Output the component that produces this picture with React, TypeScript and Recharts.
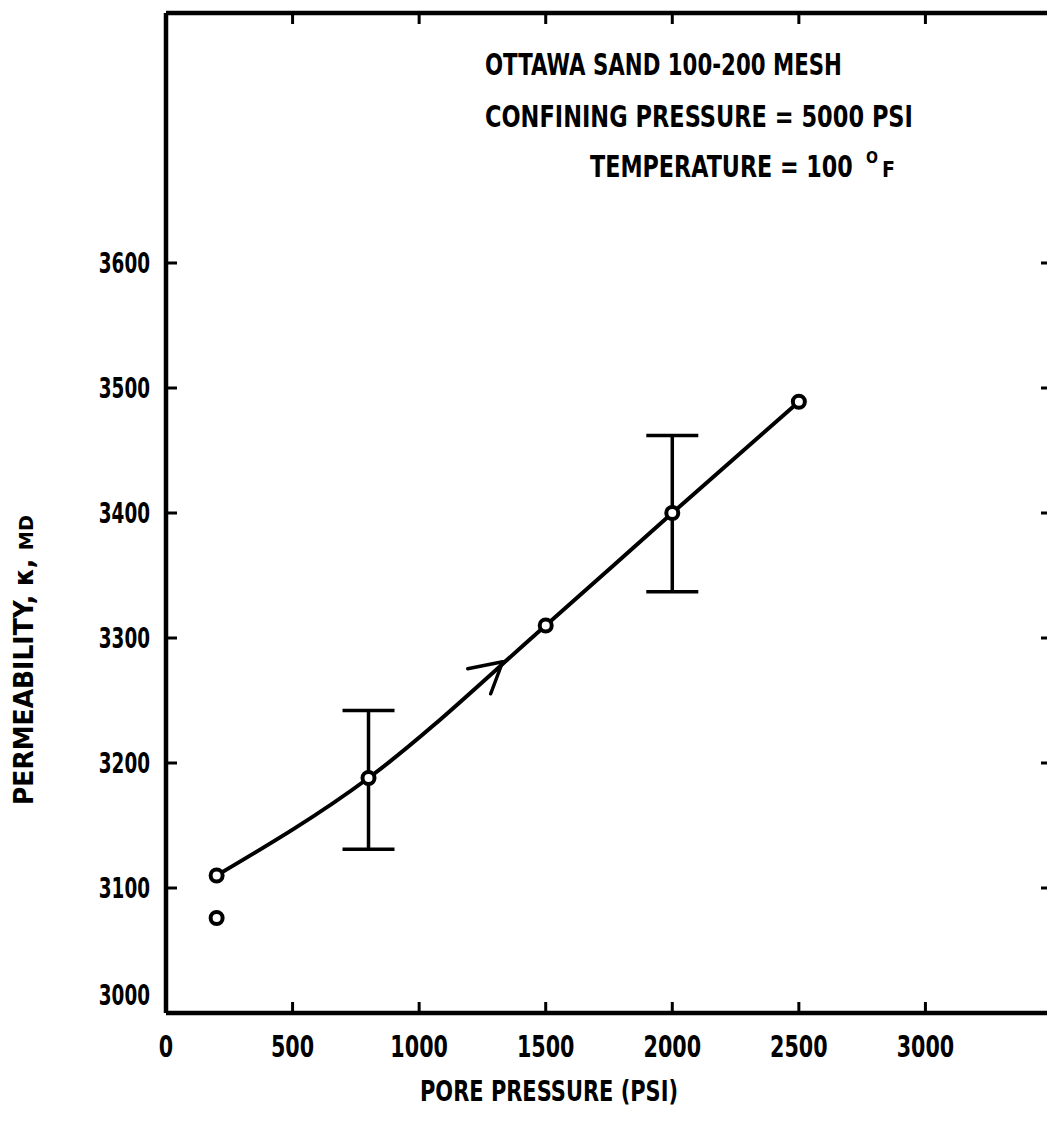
import { useLayoutEffect, useRef, useState } from "react";
import {
  ComposedChart,
  Line,
  Scatter,
  XAxis,
  YAxis,
  ErrorBar,
  ReferenceDot,
  ReferenceLine,
  Label,
  Customized,
} from "recharts";

// pore pressure (psi) vs measured permeability (md)
const pressure = [200, 800, 1500, 2000, 2500];
const permeability = [3110, 3188, 3310, 3400, 3489];
// [below, above] spread of repeat runs, where there was one
const spread: ([number, number] | null)[] = [null, [57, 54], null, [63, 62], null];

// single off-curve reading at the start of the run
const extraPressure = [200];
const extraPermeability = [3076];

const xTicks = [0, 500, 1000, 1500, 2000, 2500, 3000];
const yTicks = [3000, 3100, 3200, 3300, 3400, 3500, 3600];

// direction arrow sitting on the curve
const arrowPressure = 1330;
const arrowPermeability = 3281;

const runs = pressure.map((p, i) => ({
  pressure: p,
  permeability: permeability[i],
  spread: spread[i],
}));
const extra = extraPressure.map((p, i) => ({
  pressure: p,
  permeability: extraPermeability[i],
}));

const FONT = "'DejaVu Sans', 'Liberation Sans', sans-serif";
const INK = "#000";

// frame geometry (plot box edges, inward tick length)
const PLOT_TOP = 13;
const PLOT_RIGHT = 1052;
const TICK = 11;
const X_MARGIN = 20;
const Y_MARGIN = 16;

const axisLine = { stroke: INK, strokeWidth: 4.5 };

// squeezes a bold label horizontally to a given width (no condensed face installed)
const FitText = ({ x, y, width, size, children }: any) => {
  const ref = useRef<SVGTextElement>(null);
  const [sx, setSx] = useState(1);
  useLayoutEffect(() => {
    const n = ref.current ? ref.current.getComputedTextLength() : 0;
    if (n > 0) setSx(width / n);
  }, [width, children]);
  return (
    <text
      ref={ref}
      transform={`translate(${x} ${y}) scale(${sx} 1)`}
      fontFamily={FONT}
      fontWeight={700}
      fontSize={size}
      fill={INK}
    >
      {children}
    </text>
  );
};

// bottom ticks: inward mark, mirrored mark on the top edge, label below
const XTick = (props: any) => {
  const { x, y, payload } = props;
  const axisY = y - X_MARGIN;
  const label = String(payload.value);
  return (
    <g>
      <line x1={x} x2={x} y1={axisY} y2={axisY - TICK} stroke={INK} strokeWidth={3} />
      {payload.value !== 0 && (
        <line x1={x} x2={x} y1={PLOT_TOP} y2={PLOT_TOP + TICK} stroke={INK} strokeWidth={3} />
      )}
      <text
        x={x}
        y={axisY + 44}
        textAnchor="middle"
        fontFamily={FONT}
        fontWeight={700}
        fontSize={30}
        fill={INK}
        textLength={label.length * 14.4}
        lengthAdjust="spacingAndGlyphs"
      >
        {label}
      </text>
    </g>
  );
};

// left ticks: inward mark, mirrored mark on the right edge, label to the left
const YTick = (props: any) => {
  const { x, y, payload } = props;
  const axisX = x + Y_MARGIN;
  const label = String(payload.value);
  const lift = payload.value === 3000 ? -18 : 0;
  return (
    <g>
      <line x1={axisX} x2={axisX + TICK} y1={y} y2={y} stroke={INK} strokeWidth={3} />
      {payload.value !== 3000 && (
        <line x1={PLOT_RIGHT - TICK} x2={PLOT_RIGHT} y1={y} y2={y} stroke={INK} strokeWidth={3} />
      )}
      <text
        x={axisX - 16}
        y={y + 10 + lift}
        textAnchor="end"
        fontFamily={FONT}
        fontWeight={700}
        fontSize={27.5}
        fill={INK}
        textLength={label.length * 12.8}
        lengthAdjust="spacingAndGlyphs"
      >
        {label}
      </text>
    </g>
  );
};

const XTitle = (props: any) => {
  const { x, y } = props.viewBox;
  return (
    <text
      x={x + 383}
      y={y + 88}
      textAnchor="middle"
      fontFamily={FONT}
      fontWeight={700}
      fontSize={29}
      fill={INK}
      textLength={258}
      lengthAdjust="spacingAndGlyphs"
    >
      PORE PRESSURE (PSI)
    </text>
  );
};

const YTitle = () => {
  const cx = 33;
  const cy = 660;
  return (
    <text
      x={cx}
      y={cy}
      transform={`rotate(-90, ${cx}, ${cy})`}
      textAnchor="middle"
      fontFamily={FONT}
      fontWeight={700}
      fontSize={26}
      fill={INK}
      textLength={290}
      lengthAdjust="spacingAndGlyphs"
    >
      PERMEABILITY, κ, <tspan fontSize={20}>MD</tspan>
    </text>
  );
};

const ArrowHead = (props: any) => {
  const { cx, cy } = props;
  return (
    <g stroke={INK} strokeWidth={3.5} strokeLinecap="round">
      <line x1={cx - 35} y1={cy + 7} x2={cx} y2={cy} />
      <line x1={cx - 12} y1={cy + 32} x2={cx} y2={cy} />
    </g>
  );
};

const OpenCircle = (props: any) => (
  <circle cx={props.cx} cy={props.cy} r={6} fill="#fff" stroke={INK} strokeWidth={4} />
);

const Notes = () => (
  <g>
    <FitText x={485} y={75} width={357} size={31}>
      OTTAWA SAND 100-200 MESH
    </FitText>
    <FitText x={485} y={127} width={428} size={31}>
      CONFINING PRESSURE = 5000 PSI
    </FitText>
    <FitText x={590} y={177} width={263} size={31}>
      TEMPERATURE = 100
    </FitText>
    <FitText x={866} y={163} width={12} size={16}>
      O
    </FitText>
    <FitText x={882} y={177} width={13} size={22}>
      F
    </FitText>
  </g>
);

export default function App() {
  return (
    <div
      style={{
        position: "absolute",
        left: 0,
        top: 0,
        width: 1047,
        height: 1127,
        overflow: "hidden",
        background: "#fff",
      }}
    >
      <ComposedChart
        width={1060}
        height={1127}
        data={runs}
        margin={{ top: PLOT_TOP, right: 1060 - PLOT_RIGHT, bottom: 0, left: 0 }}
      >
        <XAxis
          dataKey="pressure"
          type="number"
          domain={[0, 3500]}
          allowDataOverflow
          ticks={xTicks}
          interval={0}
          height={114}
          axisLine={axisLine}
          tickLine={false}
          tickSize={0}
          tickMargin={X_MARGIN}
          tick={XTick}
        >
          <Label content={XTitle} />
        </XAxis>
        <YAxis
          type="number"
          domain={[3000, 3800]}
          allowDataOverflow
          ticks={yTicks}
          interval={0}
          width={166}
          axisLine={axisLine}
          tickLine={false}
          tickSize={0}
          tickMargin={Y_MARGIN}
          tick={YTick}
        >
          <Label content={YTitle} />
        </YAxis>
        <ReferenceLine y={3800} stroke={INK} strokeWidth={4.5} />
        <ReferenceLine x={3500} stroke={INK} strokeWidth={4.5} />
        <Line
          dataKey="permeability"
          type="monotone"
          stroke={INK}
          strokeWidth={4}
          dot={{ r: 6, fill: "#fff", stroke: INK, strokeWidth: 4 }}
          activeDot={false}
          isAnimationActive={false}
        >
          <ErrorBar dataKey="spread" width={26} stroke={INK} strokeWidth={3.5} direction="y" />
        </Line>
        <Scatter
          data={extra}
          dataKey="permeability"
          shape={OpenCircle}
          isAnimationActive={false}
        />
        <ReferenceDot x={arrowPressure} y={arrowPermeability} shape={ArrowHead} />
        <Customized component={Notes} />
      </ComposedChart>
    </div>
  );
}
